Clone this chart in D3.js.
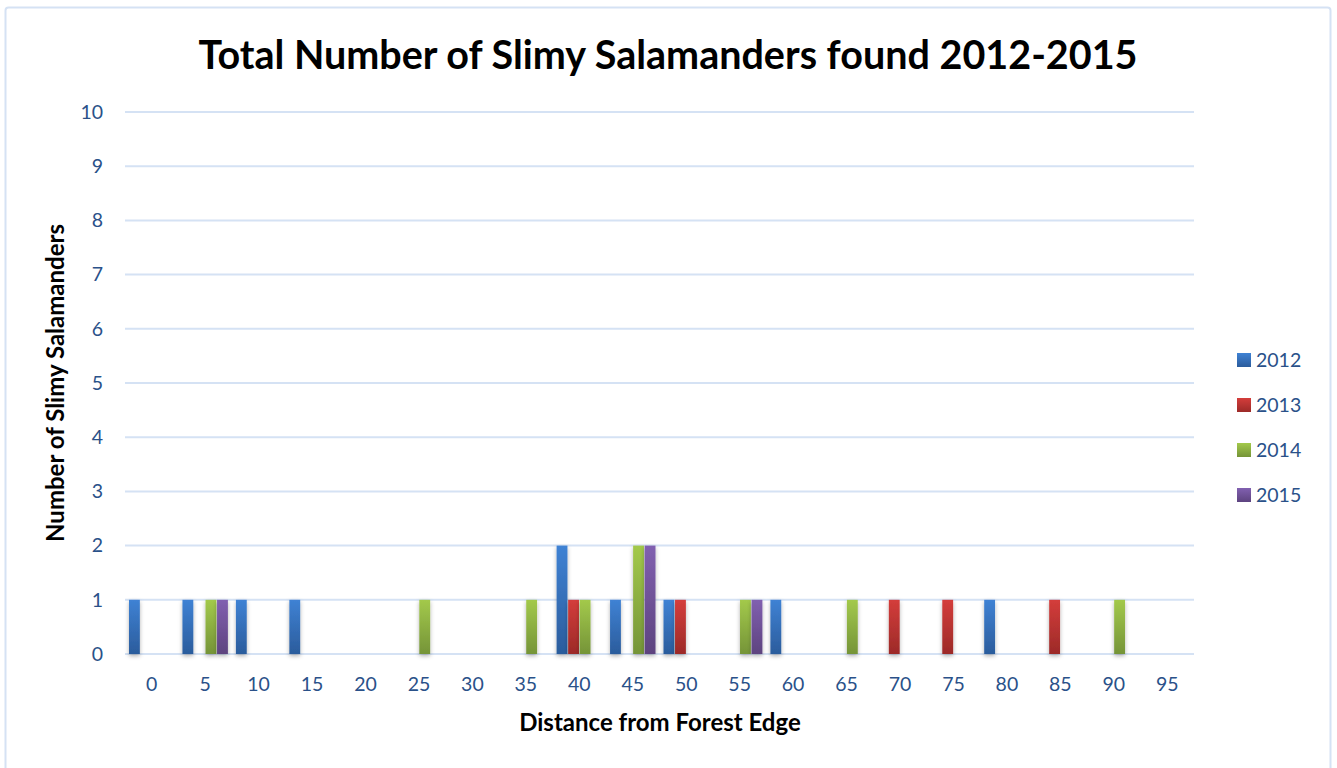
<!DOCTYPE html>
<html>
<head>
<meta charset="utf-8">
<script src="https://cdn.jsdelivr.net/npm/d3@7/dist/d3.min.js"></script>
<style>
  html, body { margin: 0; padding: 0; background: #fff; }
  svg { display: block; }
</style>
</head>
<body>
<svg id="chart" width="1337" height="768"></svg>
<script>
// Distance bins (m from forest edge)
const categories = [0, 5, 10, 15, 20, 25, 30, 35, 40, 45, 50, 55, 60, 65, 70, 75, 80, 85, 90, 95];
const seriesNames = ["2012", "2013", "2014", "2015"];
// Salamander counts per bin, one array per year
const counts2012 = [1, 1, 1, 1, 0, 0, 0, 0, 2, 1, 1, 0, 1, 0, 0, 0, 1, 0, 0, 0];
const counts2013 = [0, 0, 0, 0, 0, 0, 0, 0, 1, 0, 1, 0, 0, 0, 1, 1, 0, 1, 0, 0];
const counts2014 = [0, 1, 0, 0, 0, 1, 0, 1, 1, 2, 0, 1, 0, 1, 0, 0, 0, 0, 1, 0];
const counts2015 = [0, 1, 0, 0, 0, 0, 0, 0, 0, 2, 0, 1, 0, 0, 0, 0, 0, 0, 0, 0];
const yTicks = [0, 1, 2, 3, 4, 5, 6, 7, 8, 9, 10];

const seriesValues = [counts2012, counts2013, counts2014, counts2015];
const colors = [
  { top: "#3f82d4", bottom: "#2b5c9c" },
  { top: "#d43d3b", bottom: "#9c2a28" },
  { top: "#a3c94b", bottom: "#759438" },
  { top: "#8160b0", bottom: "#5d437f" }
];

const svg = d3.select("#chart");
const font = "Lato, 'Open Sans', sans-serif";
const tickColor = "#2a5189";

// Outer chart frame
svg.append("rect")
  .attr("x", 5.5).attr("y", 7.5)
  .attr("width", 1325).attr("height", 775)
  .attr("rx", 3)
  .attr("fill", "#fff")
  .attr("stroke", "#d5e2f4")
  .attr("stroke-width", 2);

const defs = svg.append("defs");
colors.forEach((c, i) => {
  const g = defs.append("linearGradient")
    .attr("id", "grad" + i)
    .attr("x1", 0).attr("y1", 0).attr("x2", 0).attr("y2", 1);
  g.append("stop").attr("offset", "0%").attr("stop-color", c.top);
  g.append("stop").attr("offset", "100%").attr("stop-color", c.bottom);
});
const shadow = defs.append("filter").attr("id", "shadow")
  .attr("x", "-60%").attr("y", "-20%").attr("width", "220%").attr("height", "140%");
shadow.append("feDropShadow")
  .attr("dx", 0).attr("dy", 2).attr("stdDeviation", 2.2)
  .attr("flood-color", "#000").attr("flood-opacity", 0.3);

const plot = { left: 125, right: 1194, top: 112, bottom: 654 };

const x0 = d3.scaleBand()
  .domain(categories)
  .range([plot.left, plot.right])
  .paddingInner(0.15)
  .paddingOuter(0.075);

const x1 = d3.scaleBand()
  .domain(seriesNames)
  .range([0, x0.bandwidth()])
  .paddingInner(0.06);

const y = d3.scaleLinear().domain([0, 10]).range([plot.bottom, plot.top]);

// Horizontal gridlines
svg.append("g")
  .selectAll("line")
  .data(yTicks)
  .join("line")
  .attr("x1", plot.left).attr("x2", plot.right)
  .attr("y1", d => y(d)).attr("y2", d => y(d))
  .attr("stroke", "#d5e2f4")
  .attr("stroke-width", 2);

// Y axis tick labels
const yAxis = svg.append("g")
  .attr("transform", `translate(${plot.left - 22},0)`)
  .call(d3.axisLeft(y).tickValues(yTicks).tickSize(0).tickPadding(0));
yAxis.select(".domain").remove();
yAxis.selectAll("text")
  .attr("fill", tickColor)
  .style("font-family", font)
  .style("font-size", "19.5px");

// X axis tick labels
const xAxis = svg.append("g")
  .attr("transform", `translate(0,${plot.bottom + 23})`)
  .call(d3.axisBottom(x0).tickSize(0).tickPadding(0));
xAxis.select(".domain").remove();
xAxis.selectAll("text")
  .attr("fill", tickColor)
  .style("font-family", font)
  .style("font-size", "19.5px");

// Bars
const groups = svg.append("g")
  .selectAll("g")
  .data(categories.map((c, i) => ({ cat: c, vals: seriesNames.map((s, k) => ({ s, k, v: seriesValues[k][i] })) })))
  .join("g")
  .attr("transform", d => `translate(${x0(d.cat)},0)`);

groups.selectAll("rect")
  .data(d => d.vals.filter(v => v.v > 0))
  .join("rect")
  .attr("x", d => x1(d.s))
  .attr("y", d => y(d.v))
  .attr("width", x1.bandwidth())
  .attr("height", d => y(0) - y(d.v))
  .attr("fill", d => `url(#grad${d.k})`)
  .attr("filter", "url(#shadow)");

// Title
svg.append("text")
  .attr("x", 668).attr("y", 69)
  .attr("text-anchor", "middle")
  .style("font-family", font)
  .style("font-weight", "bold")
  .style("font-size", "39.5px")
  .attr("fill", "#000")
  .text("Total Number of Slimy Salamanders found 2012-2015");

// Axis titles
svg.append("text")
  .attr("x", 660).attr("y", 731)
  .attr("text-anchor", "middle")
  .style("font-family", font)
  .style("font-weight", "bold")
  .style("font-size", "24px")
  .attr("fill", "#000")
  .text("Distance from Forest Edge");

svg.append("text")
  .attr("transform", "translate(64,383) rotate(-90)")
  .attr("text-anchor", "middle")
  .style("font-family", font)
  .style("font-weight", "bold")
  .style("font-size", "24px")
  .attr("fill", "#000")
  .text("Number of Slimy Salamanders");

// Legend
const legend = svg.append("g")
  .selectAll("g")
  .data(seriesNames)
  .join("g")
  .attr("transform", (d, i) => `translate(1237,${360 + i * 45})`);
legend.append("rect")
  .attr("x", 0).attr("y", -7)
  .attr("width", 14).attr("height", 14)
  .attr("fill", (d, i) => `url(#grad${i})`);
legend.append("text")
  .attr("x", 19).attr("y", 0)
  .attr("dy", "0.35em")
  .style("font-family", font)
  .style("font-size", "19.5px")
  .attr("fill", tickColor)
  .text(d => d);
</script>
</body>
</html>
